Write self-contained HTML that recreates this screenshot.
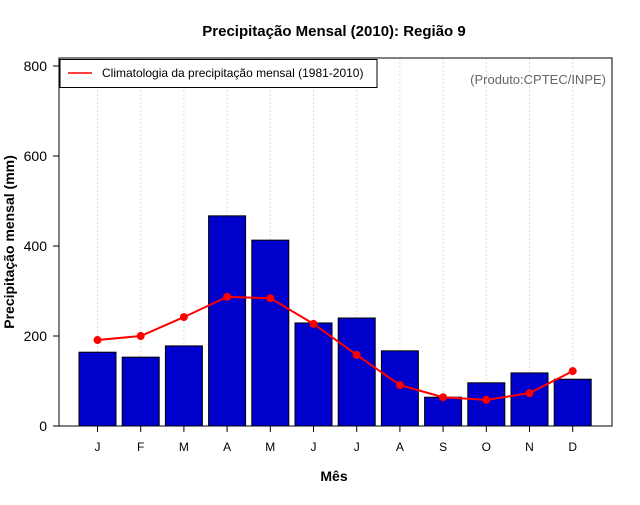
<!DOCTYPE html>
<html><head><meta charset="utf-8"><style>
body{margin:0;background:#fff}
svg text{font-family:"Liberation Sans",sans-serif}
</style></head><body>
<svg id="c" width="640" height="500">
<text x="334" y="36" font-size="15" font-weight="bold" text-anchor="middle">Precipitação Mensal (2010): Região 9</text>
<text x="334" y="481" font-size="14" font-weight="bold" text-anchor="middle">Mês</text>
<text transform="translate(14,242) rotate(-90)" font-size="14" font-weight="bold" text-anchor="middle">Precipitação mensal (mm)</text>
<g id="grid"></g><g id="bars"></g><g id="line"></g><g id="axes"></g>
<rect x="59" y="58" width="553" height="368" fill="none" stroke="#000" stroke-width="1"/>
<g>
<rect x="60" y="59.5" width="317" height="28" fill="#fff" stroke="#000"/>
<line x1="68" x2="92" y1="73" y2="73" stroke="red" stroke-width="1.5"/>
<text x="102" y="77" font-size="12">Climatologia da precipitação mensal (1981-2010)</text>
</g>
<text x="606" y="84" font-size="13" fill="#666" text-anchor="end">(Produto:CPTEC/INPE)</text>
</svg>
<script>
const months=["J","F","M","A","M","J","J","A","S","O","N","D"];
const precip2010=[164,153,178,467,413,229,240,167,64,96,118,104];
const climatology=[191,200,242,287,284,227,158,91,64,58,73,122];
const yTicks=[0,200,400,600,800];
const NS="http://www.w3.org/2000/svg";
const y=v=>426-v*0.45;
const x=i=>97.5+i*43.2;
function mk(t,a,p){const e=document.createElementNS(NS,t);for(const k in a)e.setAttribute(k,a[k]);p.appendChild(e);return e;}
const grid=document.getElementById('grid'),bars=document.getElementById('bars'),line=document.getElementById('line'),axes=document.getElementById('axes');
months.forEach((m,i)=>{
 const g=mk('line',{x1:x(i),x2:x(i),y1:58,y2:426,stroke:'#ddd','stroke-dasharray':'2,2'},grid);
 
 
 const b=mk('rect',{x:x(i)-18.5,y:y(precip2010[i]),width:37,height:precip2010[i]*0.45,fill:'#0000cc',stroke:'#000','stroke-width':1},bars);
 
 
 const t=mk('line',{x1:x(i),x2:x(i),y1:426,y2:432,stroke:'#000'},axes);
 
 
 const l=mk('text',{x:x(i),y:451,'font-size':12,'text-anchor':'middle'},axes);l.textContent=m;
 
 
});
const pl=mk('polyline',{points:climatology.map((v,i)=>x(i)+','+y(v)).join(' '),fill:'none',stroke:'red','stroke-width':2},line);


climatology.forEach((v,i)=>{const c=mk('circle',{cx:x(i),cy:y(v),r:4,fill:'red'},line);
 
 });
yTicks.forEach(v=>{
 const t=mk('line',{x1:53,x2:59,y1:y(v),y2:y(v),stroke:'#000'},axes);
 
 
 const l=mk('text',{x:47,y:y(v)+5,'font-size':14,'text-anchor':'end'},axes);l.textContent=v;
 
 
});
</script>
</body></html>
